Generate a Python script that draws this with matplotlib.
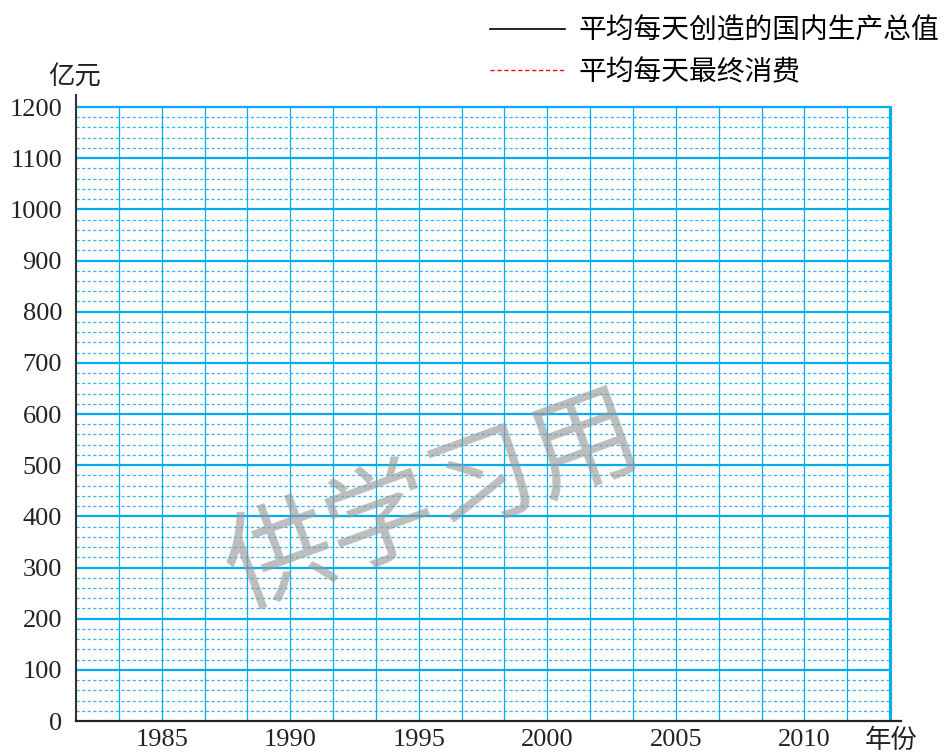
import matplotlib.pyplot as plt
import numpy as np

plt.rcParams['font.family'] = ['Liberation Serif', 'Noto Sans CJK SC']

# blank chart: tick values and legend entries only
year_ticks = [1985, 1990, 1995, 2000, 2005, 2010]
y_ticks = [0, 100, 200, 300, 400, 500, 600, 700, 800, 900, 1000, 1100, 1200]
gdp_years = []
gdp_values = []
consume_years = []
consume_values = []
series_labels = ["平均每天创造的国内生产总值", "平均每天最终消费"]

cell = 5 / 3  # one grid column = 5/3 year
x_start = 1985 - 2 * cell
x_end = x_start + 19 * cell
blue = "#00aeef"

fig = plt.figure(figsize=(9.5, 7.54), dpi=100)
ax = fig.add_axes([76 / 950, 33 / 754, 825 / 950, 626 / 754])
ax.set_xlim(x_start, x_start + 825 / 42.85 * cell)
ax.set_ylim(0, 1200 * 626 / 614)

# minor dashed lines every 20
for y in np.arange(20, 1200, 20):
    if y % 100:
        ax.plot([x_start, x_end], [y, y], color="#2bb8ef", lw=0.9,
                ls=(0, (2.5, 2)), zorder=1)
# major horizontal lines
for y in y_ticks[1:]:
    ax.plot([x_start, x_end], [y, y], color=blue, lw=1.6, zorder=2)
# vertical lines
for i in range(1, 19):
    xv = x_start + i * cell
    ax.plot([xv, xv], [0, 1200], color=blue, lw=0.9, zorder=2)
ax.plot([x_end, x_end], [0, 1200], color=blue, lw=2.2, zorder=2)

ax.plot(gdp_years, gdp_values, color="black", lw=1.2, label=series_labels[0])
ax.plot(consume_years, consume_values, color="red", lw=1.0, ls=(0, (3, 2)),
        label=series_labels[1])

for s in ["top", "right"]:
    ax.spines[s].set_visible(False)
ax.spines["left"].set_color("#333333")
ax.spines["left"].set_linewidth(1.5)
ax.spines["bottom"].set_color("#222222")
ax.spines["bottom"].set_linewidth(1.6)

ax.set_xticks(year_ticks)
ax.set_xticklabels([str(y) for y in year_ticks])
ax.set_yticks(y_ticks)
ax.set_yticklabels([str(y) for y in y_ticks])
ax.tick_params(axis="both", length=0, labelsize=19, colors="#222222")
ax.tick_params(axis="y", pad=10)
ax.tick_params(axis="x", pad=6)

ax.text(x_start - 28 / 25.71, 1258, "亿元", fontsize=19,
        family=["Noto Sans CJK SC"], ha="left", va="center", color="#222222")
ax.text(x_start + (865 - 76) / 25.71, -12, "年份", fontsize=19,
        family=["Noto Sans CJK SC"], ha="left", va="top", color="#222222")

ax.text(1995.6, 422, "供学习用", fontsize=78, family=["Noto Sans CJK SC"],
        rotation=20, ha="center", va="center", color="#9a9a9a", alpha=0.65,
        zorder=5)

ax.legend(loc="upper left", bbox_to_anchor=(490 / 950, 0.979),
          bbox_transform=fig.transFigure, frameon=False, borderpad=0,
          borderaxespad=0, handlelength=2.7, handletextpad=0.5,
          labelspacing=0.4, prop={"family": "Noto Sans CJK SC", "size": 20})

fig.savefig("out.png", dpi=100)
